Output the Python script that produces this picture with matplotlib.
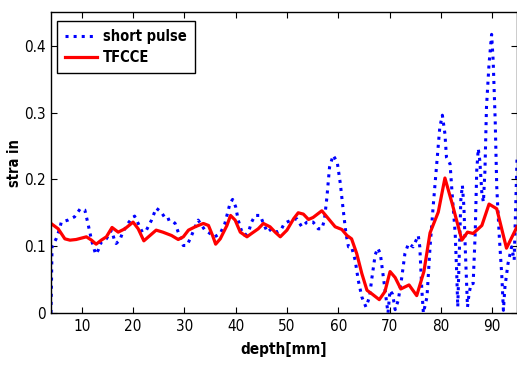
import matplotlib.pyplot as plt

red_x = [4.0, 5.4, 6.7, 7.7, 8.9, 10.9, 11.9, 12.8, 13.8, 14.8, 15.9, 17.1, 18.4, 20.0, 21.0,
         22.1, 23.3, 24.5, 25.8, 27.5, 28.8, 29.8, 30.8, 32.1, 33.7, 34.7, 35.5, 36.1, 37.0, 38.3,
         39.0, 39.9, 40.9, 42.2, 43.1, 44.4, 45.4, 46.7, 47.7, 48.7, 50.0, 51.3, 52.2, 53.2, 54.2,
         55.1, 56.8, 58.1, 59.4, 60.7, 61.7, 62.6, 63.6, 64.6, 65.6, 66.5, 68.0, 69.1, 70.1, 71.1,
         72.2, 73.8, 75.3, 76.7, 77.9, 79.5, 80.8, 82.2, 84.1, 85.2, 86.3, 88.0, 89.4, 90.9, 92.8,
         94.85]
red_y = [0.134, 0.126, 0.111, 0.109, 0.110, 0.114, 0.109, 0.103, 0.109, 0.114, 0.128, 0.121, 0.126, 0.136, 0.126,
         0.108, 0.116, 0.124, 0.121, 0.116, 0.110, 0.114, 0.124, 0.129, 0.134, 0.131, 0.116, 0.103, 0.111, 0.131,
         0.146, 0.139, 0.121, 0.114, 0.119, 0.126, 0.134, 0.129, 0.121, 0.114, 0.124, 0.141, 0.150, 0.148, 0.140,
         0.143, 0.153, 0.141, 0.129, 0.125, 0.116, 0.111, 0.089, 0.059, 0.034, 0.029, 0.020, 0.032, 0.062, 0.053,
         0.036, 0.042, 0.026, 0.062, 0.120, 0.151, 0.202, 0.164, 0.109, 0.121, 0.119, 0.131, 0.163, 0.156, 0.097,
         0.129]

blue_x = [4.0, 4.2, 5.0, 5.7, 6.0, 7.3, 8.6, 9.7, 10.6, 11.2, 11.9, 12.7, 13.2, 13.8, 14.8, 15.8, 16.3,
          16.7, 17.4, 18.0, 19.0, 19.7, 20.3, 21.0, 21.8, 22.6, 23.6, 24.5, 25.5, 26.5, 27.2, 28.2, 28.8,
          29.8, 30.5, 31.3, 32.1, 32.7, 33.4, 34.0, 35.0, 35.9, 37.0, 37.9, 38.9, 39.4, 40.0, 40.5, 41.1,
          41.8, 42.5, 43.1, 43.8, 44.8, 45.4, 46.2, 47.0, 48.0, 48.8, 49.5, 50.0, 50.9, 51.9, 52.9, 53.9,
          55.1, 56.1, 56.8, 57.3, 57.8, 58.3, 59.0, 59.8, 60.4, 60.9, 61.5, 62.0, 62.6, 63.3, 63.9, 64.6,
          65.4, 66.1, 66.5, 67.2, 67.7, 68.2, 68.7, 69.3, 69.7, 70.1, 70.6, 71.1, 71.7, 72.4, 73.0, 73.7,
          74.6, 75.6, 75.9, 76.3, 76.6, 77.3, 77.9, 78.5, 79.2, 79.8, 80.3, 80.8, 81.1, 81.8, 82.2, 82.8,
          83.1, 83.3, 83.6, 83.9, 84.2, 84.5, 84.8, 85.2, 85.5, 85.9, 86.3, 86.7, 87.0, 87.3, 87.6, 88.0,
          88.3, 88.6, 88.9, 89.4, 89.9, 90.2, 90.6, 90.9, 91.4, 91.9, 92.2, 92.5, 93.1, 93.8, 94.3, 94.85]
blue_y = [0.0, 0.099, 0.111, 0.126, 0.136, 0.139, 0.144, 0.156, 0.154, 0.134, 0.109, 0.088, 0.094, 0.106, 0.111, 0.124, 0.111,
          0.104, 0.109, 0.121, 0.134, 0.141, 0.145, 0.134, 0.121, 0.124, 0.139, 0.157, 0.151, 0.139, 0.141, 0.134, 0.121,
          0.101, 0.101, 0.114, 0.129, 0.139, 0.131, 0.124, 0.119, 0.114, 0.119, 0.134, 0.164, 0.170, 0.159, 0.139, 0.124,
          0.116, 0.121, 0.136, 0.146, 0.146, 0.134, 0.121, 0.126, 0.121, 0.124, 0.134, 0.136, 0.139, 0.141, 0.129, 0.136,
          0.136, 0.126, 0.126, 0.139, 0.174, 0.218, 0.236, 0.226, 0.194, 0.159, 0.119, 0.099, 0.099, 0.079, 0.049, 0.024,
          0.009, 0.024, 0.049, 0.087, 0.097, 0.089, 0.059, 0.024, 0.0, 0.034, 0.028, 0.005, 0.019, 0.054, 0.089, 0.104,
          0.099, 0.116, 0.099, 0.034, 0.0, 0.024, 0.099, 0.159, 0.223, 0.278, 0.296, 0.268, 0.233, 0.223, 0.179, 0.119,
          0.059, 0.009, 0.089, 0.169, 0.191, 0.159, 0.089, 0.009, 0.029, 0.044, 0.044, 0.119, 0.213, 0.246, 0.228, 0.179,
          0.166, 0.213, 0.308, 0.373, 0.417, 0.378, 0.288, 0.189, 0.114, 0.054, 0.004, 0.039, 0.074, 0.099, 0.079, 0.23]

x_ticks = [10, 20, 30, 40, 50, 60, 70, 80, 90]
y_ticks = [0, 0.1, 0.2, 0.3, 0.4]
y_tick_labels = ["0", "0.1", "0.2", "0.3", "0.4"]

# narrow look of the original: DejaVu Sans Condensed
plt.rcParams['font.family'] = ['DejaVu Sans']
plt.rcParams['font.stretch'] = 'condensed'

fig = plt.figure(figsize=(5.17, 3.65), dpi=100)
ax = fig.add_axes([51 / 517, 52 / 365, 466 / 517, 300.7 / 365])

ax.plot(blue_x, blue_y, color='blue', linestyle=':', linewidth=2.2, label='short pulse')
ax.plot(red_x, red_y, color='red', linestyle='-', linewidth=2.3, label='TFCCE')

ax.set_xlim(4, 94.85)
ax.set_ylim(0, 0.45)
ax.set_xticks(x_ticks)
ax.set_yticks(y_ticks)
ax.set_yticklabels(y_tick_labels)
ax.tick_params(direction='in', top=True, right=True, length=4, width=0.8, labelsize=11, pad=4)
for s in ax.spines.values():
    s.set_linewidth(1.0)

ax.set_xlabel('depth[mm]', fontsize=11, fontweight='bold', labelpad=6)
ax.set_ylabel('stra in', fontsize=10.5, fontweight='bold', labelpad=1)

leg = ax.legend(loc='upper left', bbox_to_anchor=(0.013, 0.971), borderaxespad=0,
                fancybox=False, edgecolor='black', framealpha=1, handlelength=2.2,
                prop={'weight': 'bold', 'size': 10.5, 'stretch': 'condensed'},
                borderpad=0.55, labelspacing=0.4, handletextpad=0.4)
leg.get_frame().set_linewidth(1.0)

fig.savefig('out.png', dpi=100)
